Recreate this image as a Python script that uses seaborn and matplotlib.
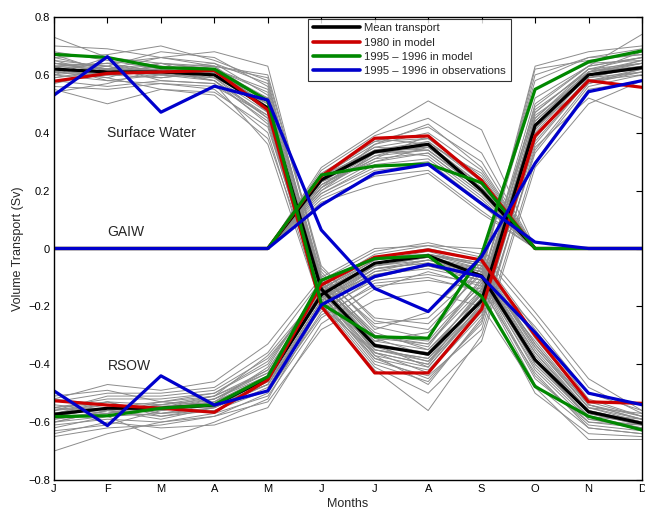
import numpy as np
import pandas as pd
import matplotlib
matplotlib.use('Agg')
import matplotlib.pyplot as plt
import seaborn as sns

# =========================
# DANE
# =========================

months = ['J', 'F', 'M', 'A', 'M', 'J', 'J', 'A', 'S', 'O', 'N', 'D']

# linie wyróżnione: [Surface Water, GAIW, RSOW]
mean_sw = [0.62, 0.61, 0.61, 0.60, 0.485, -0.14, -0.335, -0.365, -0.18, 0.425, 0.60, 0.625]
mean_gaiw = [0, 0, 0, 0, 0, 0.237, 0.334, 0.36, 0.20, 0, 0, 0]
mean_rsow = [-0.573, -0.552, -0.552, -0.541, -0.449, -0.16, -0.051, -0.025, -0.095, -0.385, -0.564, -0.604]

m1980_sw = [0.578, 0.605, 0.61, 0.615, 0.479, -0.20, -0.43, -0.43, -0.21, 0.389, 0.58, 0.557]
m1980_gaiw = [0, 0, 0, 0, 0, 0.25, 0.381, 0.389, 0.235, 0, 0, 0]
m1980_rsow = [-0.526, -0.541, -0.552, -0.566, -0.454, -0.126, -0.03, -0.005, -0.04, -0.30, -0.53, -0.535]

m1995_sw = [0.671, 0.66, 0.625, 0.62, 0.51, -0.19, -0.305, -0.31, -0.02, 0.55, 0.645, 0.683]
m1995_gaiw = [0, 0, 0, 0, 0, 0.254, 0.285, 0.292, 0.227, 0, 0, 0]
m1995_rsow = [-0.581, -0.578, -0.552, -0.54, -0.443, -0.11, -0.035, -0.025, -0.166, -0.477, -0.58, -0.627]

obs_sw = [0.53, 0.663, 0.471, 0.561, 0.513, 0.064, -0.138, -0.218, -0.028, 0.294, 0.542, 0.58]
obs_gaiw = [0, 0, 0, 0, 0, 0.15, 0.26, 0.291, 0.155, 0.022, 0, 0]
obs_rsow = [-0.492, -0.612, -0.44, -0.541, -0.492, -0.195, -0.097, -0.055, -0.097, -0.29, -0.50, -0.54]

# pozostałe lata z modelu (szare)
gray_sw = [
    [0.73, 0.66, 0.64, 0.62, 0.55, -0.10, -0.30, -0.33, -0.12, 0.52, 0.63, 0.74],
    [0.70, 0.69, 0.66, 0.63, 0.60, -0.06, -0.25, -0.28, -0.08, 0.63, 0.68, 0.70],
    [0.66, 0.67, 0.70, 0.65, 0.58, -0.12, -0.36, -0.40, -0.15, 0.45, 0.62, 0.66],
    [0.64, 0.62, 0.66, 0.68, 0.63, -0.08, -0.28, -0.22, -0.05, 0.58, 0.66, 0.67],
    [0.62, 0.60, 0.63, 0.62, 0.52, -0.14, -0.33, -0.36, -0.18, 0.40, 0.60, 0.64],
    [0.60, 0.58, 0.60, 0.59, 0.47, -0.16, -0.38, -0.42, -0.22, 0.36, 0.58, 0.62],
    [0.58, 0.56, 0.58, 0.57, 0.44, -0.18, -0.40, -0.46, -0.25, 0.33, 0.56, 0.60],
    [0.56, 0.55, 0.57, 0.55, 0.40, -0.20, -0.42, -0.56, -0.30, 0.30, 0.55, 0.58],
    [0.55, 0.50, 0.55, 0.53, 0.38, -0.15, -0.35, -0.38, -0.20, 0.42, 0.57, 0.62],
    [0.54, 0.57, 0.62, 0.60, 0.50, -0.12, -0.30, -0.34, -0.10, 0.48, 0.61, 0.63],
    [0.63, 0.64, 0.61, 0.58, 0.45, -0.17, -0.39, -0.44, -0.28, 0.35, 0.52, 0.45],
    [0.65, 0.63, 0.68, 0.66, 0.56, -0.09, -0.27, -0.31, -0.06, 0.55, 0.64, 0.65],
    [0.61, 0.59, 0.55, 0.54, 0.42, -0.16, -0.37, -0.47, -0.24, 0.38, 0.59, 0.61],
    [0.59, 0.62, 0.59, 0.61, 0.49, -0.13, -0.32, -0.29, -0.13, 0.47, 0.62, 0.64],
    [0.68, 0.65, 0.62, 0.64, 0.53, -0.11, -0.29, -0.35, -0.16, 0.50, 0.63, 0.66],
    [0.57, 0.61, 0.64, 0.63, 0.51, -0.14, -0.34, -0.39, -0.21, 0.43, 0.60, 0.65],
    [0.63, 0.58, 0.57, 0.56, 0.46, -0.19, -0.41, -0.50, -0.32, 0.28, 0.50, 0.58],
    [0.60, 0.66, 0.63, 0.60, 0.48, -0.12, -0.31, -0.37, -0.14, 0.44, 0.61, 0.68],
    [0.67, 0.61, 0.60, 0.62, 0.54, -0.10, -0.26, -0.24, -0.07, 0.60, 0.66, 0.69],
    [0.62, 0.64, 0.66, 0.64, 0.57, -0.11, -0.33, -0.41, -0.19, 0.46, 0.59, 0.63],
    [0.58, 0.60, 0.62, 0.58, 0.43, -0.18, -0.38, -0.45, -0.26, 0.34, 0.57, 0.61],
    [0.64, 0.63, 0.58, 0.57, 0.36, -0.20, -0.36, -0.43, -0.23, 0.39, 0.58, 0.60],
    [0.61, 0.60, 0.61, 0.63, 0.59, -0.07, -0.24, -0.26, -0.09, 0.62, 0.65, 0.67],
    [0.66, 0.62, 0.64, 0.59, 0.50, -0.13, -0.35, -0.38, -0.17, 0.41, 0.61, 0.64],
    [0.63, 0.62, 0.62, 0.61, 0.50, -0.13, -0.34, -0.36, -0.15, 0.44, 0.60, 0.63],
    [0.61, 0.63, 0.60, 0.62, 0.47, -0.15, -0.33, -0.37, -0.17, 0.42, 0.61, 0.64],
    [0.64, 0.61, 0.63, 0.60, 0.52, -0.12, -0.31, -0.33, -0.14, 0.47, 0.62, 0.62],
    [0.60, 0.62, 0.61, 0.59, 0.45, -0.16, -0.36, -0.40, -0.19, 0.39, 0.59, 0.63],
    [0.62, 0.59, 0.64, 0.62, 0.49, -0.14, -0.32, -0.35, -0.16, 0.45, 0.61, 0.65],
    [0.65, 0.60, 0.59, 0.61, 0.51, -0.12, -0.30, -0.32, -0.11, 0.49, 0.63, 0.66],
    [0.59, 0.61, 0.62, 0.63, 0.48, -0.15, -0.35, -0.39, -0.18, 0.41, 0.60, 0.62],
    [0.63, 0.64, 0.60, 0.58, 0.46, -0.14, -0.37, -0.41, -0.20, 0.37, 0.58, 0.61],
]

gray_gaiw = [
    [0, 0, 0, 0, 0, 0.28, 0.40, 0.51, 0.41, 0, 0, 0],
    [0, 0, 0, 0, 0, 0.27, 0.39, 0.45, 0.33, 0, 0, 0],
    [0, 0, 0, 0, 0, 0.26, 0.37, 0.42, 0.30, 0, 0, 0],
    [0, 0, 0, 0, 0, 0.25, 0.36, 0.40, 0.27, 0, 0, 0],
    [0, 0, 0, 0, 0, 0.24, 0.35, 0.38, 0.25, 0, 0, 0],
    [0, 0, 0, 0, 0, 0.23, 0.34, 0.37, 0.24, 0, 0, 0],
    [0, 0, 0, 0, 0, 0.22, 0.33, 0.35, 0.22, 0, 0, 0],
    [0, 0, 0, 0, 0, 0.21, 0.32, 0.34, 0.20, 0, 0, 0],
    [0, 0, 0, 0, 0, 0.20, 0.30, 0.33, 0.19, 0, 0, 0],
    [0, 0, 0, 0, 0, 0.19, 0.29, 0.31, 0.17, 0, 0, 0],
    [0, 0, 0, 0, 0, 0.18, 0.27, 0.29, 0.15, 0, 0, 0],
    [0, 0, 0, 0, 0, 0.17, 0.25, 0.27, 0.13, 0, 0, 0],
    [0, 0, 0, 0, 0, 0.16, 0.22, 0.26, 0.12, 0, 0, 0],
    [0, 0, 0, 0, 0, 0.24, 0.38, 0.36, 0.26, 0, 0, 0],
    [0, 0, 0, 0, 0, 0.22, 0.31, 0.39, 0.23, 0, 0, 0],
    [0, 0, 0, 0, 0, 0.20, 0.33, 0.34, 0.21, 0, 0, 0],
    [0, 0, 0, 0, 0, 0.25, 0.34, 0.32, 0.18, 0, 0, 0],
    [0, 0, 0, 0, 0, 0.21, 0.36, 0.43, 0.28, 0, 0, 0],
    [0, 0, 0, 0, 0, 0.23, 0.30, 0.35, 0.21, 0, 0, 0],
    [0, 0, 0, 0, 0, 0.19, 0.28, 0.30, 0.16, 0, 0, 0],
    [0, 0, 0, 0, 0, 0.23, 0.33, 0.36, 0.22, 0, 0, 0],
    [0, 0, 0, 0, 0, 0.24, 0.35, 0.34, 0.20, 0, 0, 0],
    [0, 0, 0, 0, 0, 0.22, 0.32, 0.37, 0.23, 0, 0, 0],
    [0, 0, 0, 0, 0, 0.25, 0.37, 0.38, 0.24, 0, 0, 0],
    [0, 0, 0, 0, 0, 0.21, 0.31, 0.33, 0.19, 0, 0, 0],
    [0, 0, 0, 0, 0, 0.24, 0.34, 0.35, 0.21, 0, 0, 0],
]

gray_rsow = [
    [-0.70, -0.64, -0.60, -0.58, -0.50, -0.22, -0.10, -0.06, -0.10, -0.42, -0.60, -0.62],
    [-0.64, -0.60, -0.62, -0.61, -0.55, -0.26, -0.14, -0.08, -0.13, -0.47, -0.62, -0.64],
    [-0.62, -0.58, -0.66, -0.60, -0.52, -0.20, -0.08, -0.04, -0.09, -0.40, -0.58, -0.63],
    [-0.60, -0.56, -0.58, -0.55, -0.47, -0.18, -0.06, -0.03, -0.07, -0.36, -0.57, -0.61],
    [-0.58, -0.55, -0.56, -0.54, -0.45, -0.16, -0.05, -0.02, -0.05, -0.33, -0.55, -0.60],
    [-0.56, -0.53, -0.54, -0.52, -0.42, -0.14, -0.03, 0.00, -0.04, -0.30, -0.54, -0.59],
    [-0.55, -0.52, -0.52, -0.50, -0.40, -0.13, -0.02, 0.01, -0.03, -0.28, -0.52, -0.58],
    [-0.53, -0.50, -0.50, -0.48, -0.36, -0.11, -0.01, 0.02, -0.02, -0.24, -0.48, -0.57],
    [-0.52, -0.47, -0.49, -0.46, -0.33, -0.10, 0.00, 0.01, 0.00, -0.22, -0.45, -0.56],
    [-0.51, -0.49, -0.53, -0.51, -0.43, -0.15, -0.04, -0.01, -0.06, -0.35, -0.56, -0.60],
    [-0.57, -0.54, -0.57, -0.56, -0.48, -0.19, -0.07, -0.05, -0.08, -0.38, -0.59, -0.62],
    [-0.59, -0.57, -0.55, -0.53, -0.44, -0.17, -0.09, -0.07, -0.11, -0.44, -0.61, -0.63],
    [-0.61, -0.59, -0.60, -0.57, -0.51, -0.24, -0.12, -0.10, -0.15, -0.50, -0.64, -0.65],
    [-0.54, -0.56, -0.59, -0.55, -0.46, -0.21, -0.11, -0.09, -0.12, -0.45, -0.60, -0.61],
    [-0.63, -0.61, -0.56, -0.53, -0.41, -0.12, -0.03, -0.02, -0.05, -0.31, -0.53, -0.58],
    [-0.56, -0.51, -0.51, -0.49, -0.38, -0.16, -0.06, -0.03, -0.08, -0.37, -0.57, -0.59],
    [-0.65, -0.62, -0.61, -0.58, -0.53, -0.28, -0.18, -0.15, -0.20, -0.48, -0.66, -0.66],
    [-0.58, -0.55, -0.53, -0.50, -0.39, -0.14, -0.04, -0.02, -0.06, -0.34, -0.55, -0.57],
    [-0.60, -0.58, -0.57, -0.54, -0.47, -0.20, -0.09, -0.06, -0.10, -0.39, -0.58, -0.60],
    [-0.52, -0.54, -0.55, -0.52, -0.44, -0.17, -0.07, -0.04, -0.07, -0.27, -0.50, -0.56],
    [-0.57, -0.53, -0.58, -0.56, -0.49, -0.23, -0.13, -0.11, -0.14, -0.43, -0.62, -0.64],
    [-0.55, -0.57, -0.54, -0.51, -0.37, -0.15, -0.05, -0.03, -0.09, -0.32, -0.54, -0.58],
    [-0.57, -0.55, -0.55, -0.53, -0.45, -0.17, -0.06, -0.04, -0.08, -0.36, -0.56, -0.60],
    [-0.59, -0.56, -0.54, -0.55, -0.46, -0.18, -0.07, -0.05, -0.09, -0.38, -0.57, -0.61],
    [-0.56, -0.54, -0.56, -0.52, -0.43, -0.15, -0.05, -0.02, -0.07, -0.34, -0.55, -0.59],
    [-0.58, -0.57, -0.53, -0.54, -0.44, -0.16, -0.06, -0.03, -0.10, -0.40, -0.58, -0.62],
    [-0.55, -0.53, -0.57, -0.55, -0.47, -0.19, -0.08, -0.06, -0.11, -0.41, -0.59, -0.61],
    [-0.60, -0.56, -0.55, -0.51, -0.42, -0.14, -0.04, -0.02, -0.06, -0.33, -0.54, -0.59],
]

series_names = ['Mean transport', '1980 in model', '1995 \u2013 1996 in model',
                '1995 \u2013 1996 in observations']
series_colors = ['#000000', '#cc0000', '#008800', '#0000cc']

# =========================
# RAMKI DANYCH (long format)
# =========================

x = np.arange(12)

rows = []
for grp_name, grp in [('sw', gray_sw), ('gaiw', gray_gaiw), ('rsow', gray_rsow)]:
    for i, vals in enumerate(grp):
        for m, v in zip(x, vals):
            rows.append({'month': m, 'value': v, 'unit': f'{grp_name}_{i}'})
df_gray = pd.DataFrame(rows)

highlight = {
    series_names[0]: [mean_sw, mean_gaiw, mean_rsow],
    series_names[1]: [m1980_sw, m1980_gaiw, m1980_rsow],
    series_names[2]: [m1995_sw, m1995_gaiw, m1995_rsow],
    series_names[3]: [obs_sw, obs_gaiw, obs_rsow],
}
rows = []
for name, groups in highlight.items():
    for g, vals in zip(['sw', 'gaiw', 'rsow'], groups):
        for m, v in zip(x, vals):
            rows.append({'month': m, 'value': v, 'series': name, 'unit': g})
df_hl = pd.DataFrame(rows)

# =========================
# WYKRES
# =========================

sns.set_theme(style='white')
plt.rcParams['font.family'] = ['Liberation Sans', 'DejaVu Sans']

fig = plt.figure(figsize=(6.45, 5.11), dpi=100)
ax = fig.add_axes([54 / 645, 31 / 511, 588 / 645, 463 / 511])

sns.lineplot(data=df_gray, x='month', y='value', units='unit', estimator=None,
             color='#8c8c8c', linewidth=0.7, ax=ax, legend=False)

sns.lineplot(data=df_hl, x='month', y='value', hue='series', units='unit',
             estimator=None, hue_order=series_names,
             palette=dict(zip(series_names, series_colors)),
             linewidth=2.3, ax=ax)

ax.set_xlim(0, 11)
ax.set_ylim(-0.8, 0.8)
ax.set_xticks(x)
ax.set_xticklabels(months)
yt = np.round(np.arange(-0.8, 0.81, 0.2), 1)
ax.set_yticks(yt)
ax.set_yticklabels(['0' if v == 0 else f'{v:.1f}'.replace('-', '\u2212') for v in yt])
ax.tick_params(direction='in', top=True, right=True, length=4, width=0.8,
               labelsize=8, colors='black', pad=3)
for s in ax.spines.values():
    s.set_color('black')
    s.set_linewidth(1.0)

ax.set_xlabel('Months', fontsize=9, labelpad=3)
ax.set_ylabel('Volume Transport (Sv)', fontsize=9, labelpad=3)

ax.text(1, 0.40, 'Surface Water', fontsize=10, va='center', ha='left')
ax.text(1, 0.057, 'GAIW', fontsize=10, va='center', ha='left')
ax.text(1, -0.405, 'RSOW', fontsize=10, va='center', ha='left')

leg = ax.legend(loc='upper left', bbox_to_anchor=(0.432, 0.996), fontsize=8.1,
                frameon=True, fancybox=False, handlelength=4.2, handletextpad=0.4,
                borderpad=0.4, labelspacing=0.38, borderaxespad=0)
leg.get_frame().set_edgecolor('black')
leg.get_frame().set_linewidth(0.8)
for line in leg.get_lines():
    line.set_linewidth(2.6)

plt.savefig('out.png', dpi=100)
